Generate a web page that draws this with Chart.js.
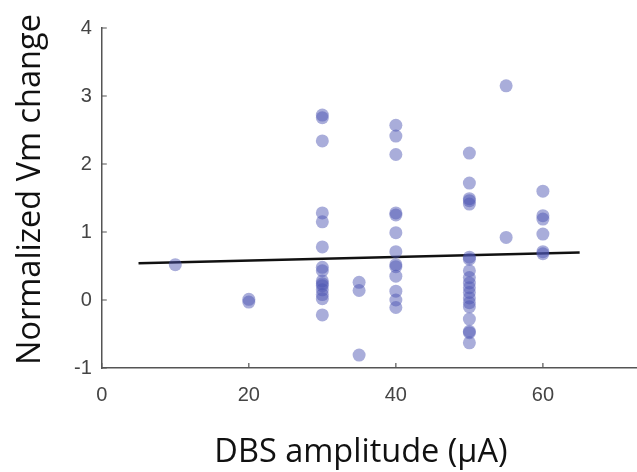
<!DOCTYPE html>
<html>
<head>
<meta charset="utf-8">
<script src="https://cdn.jsdelivr.net/npm/chart.js@4.4.1/dist/chart.umd.min.js"></script>
<style>
  html, body { margin: 0; padding: 0; background: #fff; }
  #wrap { width: 637px; height: 472px; }
</style>
</head>
<body>
<div id="wrap"><canvas id="myChart"></canvas></div>
<script>
    // DBS amplitude (uA) groups and the normalized Vm change of each cell
    const amplitudes = [10, 20, 30, 35, 40, 50, 55, 60];
    const vmChange = [
        [0.52],
        [0.01, -0.03],
        [2.72, 2.68, 2.34, 1.28, 1.15, 0.78, 0.48, 0.43, 0.28, 0.24, 0.21, 0.15, 0.08, 0.02, -0.22],
        [0.26, 0.14, -0.81],
        [2.57, 2.41, 2.14, 1.28, 1.25, 0.99, 0.71, 0.52, 0.49, 0.35, 0.13, 0.0, -0.11],
        [2.16, 1.72, 1.49, 1.46, 1.41, 0.63, 0.60, 0.43, 0.33, 0.25, 0.18, 0.11, 0.03, -0.04, -0.10, -0.28, -0.46, -0.48, -0.63],
        [3.15, 0.92],
        [1.60, 1.24, 1.19, 0.97, 0.71, 0.68]
    ];
    // linear fit line end points
    const fitX = [5, 65];
    const fitY = [0.54, 0.70];

    const xTicks = [0, 20, 40, 60];
    const yTicks = [-1, 0, 1, 2, 3, 4];

    var points = [];
    amplitudes.forEach(function (a, i) {
        vmChange[i].forEach(function (v) {
            points.push({ x: a, y: v });
        });
    });
    const fit = fitX.map(function (a, i) {
        return { x: a, y: fitY[i] };
    });

    // small tick marks pointing into the plot, like the original figure
    const innerTicks = {
        id: "innerTicks",
        afterDraw: function (chart) {
            const c = chart.ctx;
            const xs = chart.scales.x;
            const ys = chart.scales.y;
            const area = chart.chartArea;
            c.save();
            c.strokeStyle = "#555555";
            c.lineWidth = 1.2;
            c.beginPath();
            xTicks.forEach(function (v) {
                const px = xs.getPixelForValue(v);
                c.moveTo(px, area.bottom);
                c.lineTo(px, area.bottom - 5);
            });
            yTicks.forEach(function (v) {
                const py = ys.getPixelForValue(v);
                c.moveTo(area.left, py);
                c.lineTo(area.left + 5, py);
            });
            c.stroke();
            c.restore();
        },
    };

    const ctx = document.getElementById("myChart");
    new Chart(ctx, {
        type: "scatter",
        data: {
            datasets: [
                {
                    data: points,
                    backgroundColor: "rgba(76, 84, 178, 0.48)",
                    borderWidth: 0,
                    pointRadius: 6.5,
                    pointHoverRadius: 6.5,
                },
                {
                    type: "line",
                    data: fit,
                    borderColor: "#111111",
                    borderWidth: 2.5,
                    pointRadius: 0,
                    fill: false,
                },
            ],
        },
        options: {
            responsive: true,
            maintainAspectRatio: false,
            animation: false,
            layout: {
                autoPadding: false,
                padding: { top: 28, right: 0, left: 0, bottom: 0 },
            },
            plugins: {
                legend: { display: false },
                tooltip: { enabled: false },
            },
            scales: {
                x: {
                    type: "linear",
                    min: 0,
                    max: 72.8,
                    afterBuildTicks: function (axis) {
                        axis.ticks = xTicks.map(function (v) { return { value: v }; });
                    },
                    grid: { display: false, drawTicks: false },
                    border: { display: true, color: "#555555", width: 1.5 },
                    ticks: {
                        padding: 15,
                        color: "#444444",
                        font: { family: "Liberation Sans", size: 20 },
                    },
                    title: {
                        display: true,
                        // trailing spaces nudge the title a bit left, as in the figure
                        text: "DBS amplitude (\u00b5A)  ",
                        color: "#111111",
                        font: { family: "Open Sans", size: 32.5 },
                        padding: { top: 11, bottom: 0 },
                    },
                },
                y: {
                    min: -1,
                    max: 4,
                    afterBuildTicks: function (axis) {
                        axis.ticks = yTicks.map(function (v) { return { value: v }; });
                    },
                    grid: { display: false, drawTicks: false },
                    border: { display: true, color: "#555555", width: 1.5 },
                    ticks: {
                        padding: 10,
                        color: "#444444",
                        font: { family: "Liberation Sans", size: 20 },
                    },
                    title: {
                        display: true,
                        text: "  Normalized Vm change",
                        color: "#111111",
                        font: { family: "Open Sans", size: 32.5 },
                        padding: { top: 11, bottom: 14 },
                    },
                },
            },
        },
        plugins: [innerTicks],
    });
</script>
</body>
</html>
